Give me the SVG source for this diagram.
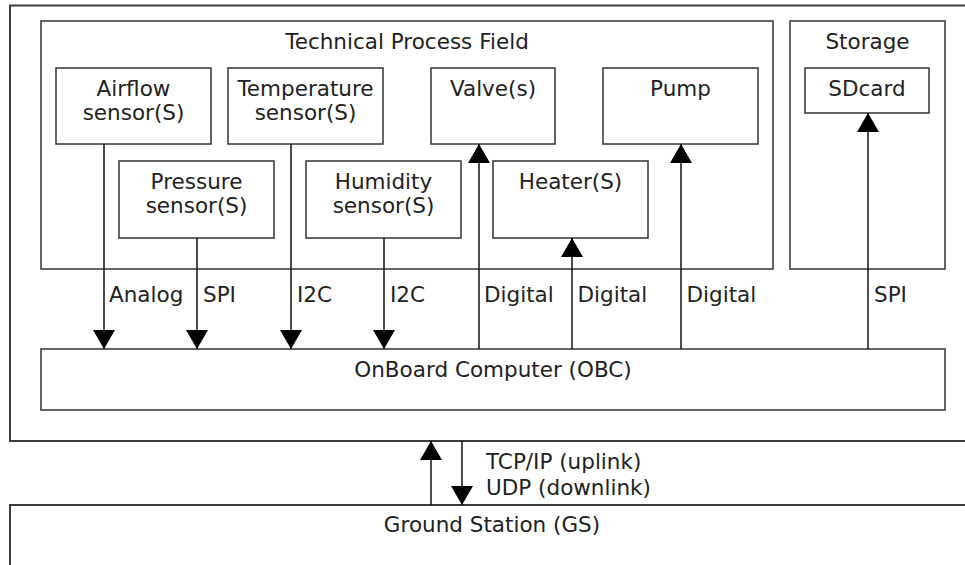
<svg xmlns="http://www.w3.org/2000/svg" width="965" height="565" viewBox="0 0 965 565">
<defs>
<style>
.bx{fill:#fff;stroke:#333;stroke-width:1.5}
.ob{fill:#fff;stroke:#3c3c3c;stroke-width:2}
.t{font-family:"DejaVu Sans",Verdana,sans-serif;font-size:21.5px;fill:#222}
.c{text-anchor:middle}
.ln{fill:none;stroke:#111;stroke-width:1.5}
.ar{marker-end:url(#ah)}
</style>
<marker id="ah" markerUnits="userSpaceOnUse" markerWidth="19" markerHeight="22" viewBox="0 0 19 22" refX="19" refY="11" orient="auto">
<path d="M0,0 L19,11 L0,22 z" fill="#000"/>
</marker>
</defs>
<rect width="965" height="565" fill="#fff"/>
<g id="drone">
<rect class="ob" x="10" y="5.5" width="1000" height="435.5"/>
</g>
<g id="ground">
<rect class="ob" x="10" y="505" width="1000" height="100"/>
<text class="t c" x="492" y="532">Ground Station (GS)</text>
</g>
<g id="field">
<rect class="bx" x="41" y="21" width="732" height="248"/>
<text class="t c" x="407" y="49">Technical Process Field</text>
</g>
<g id="storage">
<rect class="bx" x="790" y="21" width="155" height="248"/>
<text class="t c" x="867.5" y="49">Storage</text>
</g>
<g id="airflow">
<rect class="bx" x="56" y="68" width="155" height="76"/>
<text class="t c" x="133.5" y="96">Airflow</text>
<text class="t c" x="133.5" y="120">sensor(S)</text>
</g>
<g id="temperature">
<rect class="bx" x="228" y="68" width="155" height="76"/>
<text class="t c" x="305.5" y="96">Temperature</text>
<text class="t c" x="305.5" y="120">sensor(S)</text>
</g>
<g id="valve">
<rect class="bx" x="431" y="68" width="124" height="76"/>
<text class="t c" x="493" y="96">Valve(s)</text>
</g>
<g id="pump">
<rect class="bx" x="603" y="68" width="155" height="76"/>
<text class="t c" x="680.5" y="96">Pump</text>
</g>
<g id="sdcard">
<rect class="bx" x="805" y="68" width="124" height="45"/>
<text class="t c" x="867" y="96">SDcard</text>
</g>
<g id="pressure">
<rect class="bx" x="119" y="161" width="155" height="77"/>
<text class="t c" x="196.5" y="189">Pressure</text>
<text class="t c" x="196.5" y="213">sensor(S)</text>
</g>
<g id="humidity">
<rect class="bx" x="306" y="161" width="155" height="77"/>
<text class="t c" x="383.5" y="189">Humidity</text>
<text class="t c" x="383.5" y="213">sensor(S)</text>
</g>
<g id="heater">
<rect class="bx" x="493" y="161" width="155" height="77"/>
<text class="t c" x="570.5" y="189">Heater(S)</text>
</g>
<g id="obc">
<rect class="bx" x="41" y="349" width="904" height="61"/>
<text class="t c" x="493" y="377">OnBoard Computer (OBC)</text>
</g>
<g id="connectors">
<path class="ln ar" d="M104,144 V349"/>
<path class="ln ar" d="M197,238 V349"/>
<path class="ln ar" d="M291,144 V349"/>
<path class="ln ar" d="M384,238 V349"/>
<path class="ln ar" d="M479,349 V144"/>
<path class="ln ar" d="M572,349 V238"/>
<path class="ln ar" d="M681,349 V144"/>
<path class="ln ar" d="M868,349 V113"/>
<path class="ln ar" d="M431,505 V441"/>
<path class="ln ar" d="M462,441 V505"/>
<text class="t" x="109" y="302">Analog</text>
<text class="t" x="203" y="302">SPI</text>
<text class="t" x="297" y="302">I2C</text>
<text class="t" x="390" y="302">I2C</text>
<text class="t" x="484" y="302">Digital</text>
<text class="t" x="577.5" y="302">Digital</text>
<text class="t" x="686.5" y="302">Digital</text>
<text class="t" x="874" y="302">SPI</text>
<text class="t" x="486" y="469">TCP/IP (uplink)</text>
<text class="t" x="486" y="495">UDP (downlink)</text>
</g>
</svg>
